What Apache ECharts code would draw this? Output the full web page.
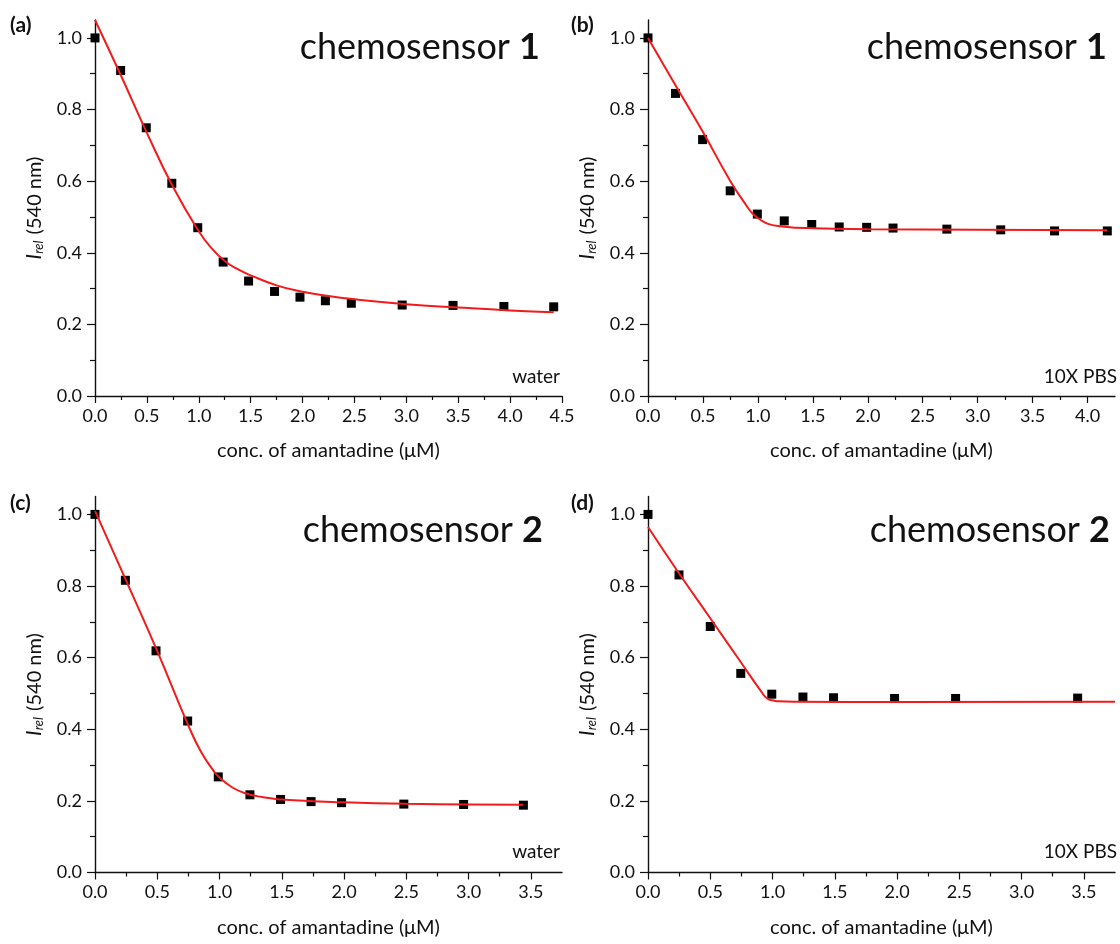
<!DOCTYPE html>
<html>
<head>
<meta charset="utf-8">
<title>chemosensor titration</title>
<script src="https://cdn.jsdelivr.net/npm/echarts@6/dist/echarts.min.js"></script>
<style>
  html, body { margin: 0; padding: 0; background: #fff; }
  #main { width: 1120px; height: 944px; }
</style>
</head>
<body>
<div id="main"></div>
<script>
var xA = [0, 0.247, 0.494, 0.74, 0.99, 1.235, 1.48, 1.73, 1.975, 2.22, 2.47, 2.96, 3.45, 3.94, 4.42];
var yA = [1.0, 0.909, 0.749, 0.594, 0.470, 0.374, 0.321, 0.292, 0.276, 0.266, 0.259, 0.254, 0.253, 0.250, 0.249];
var xB = [0, 0.25, 0.497, 0.748, 0.995, 1.24, 1.49, 1.74, 1.99, 2.23, 2.72, 3.21, 3.70, 4.18];
var yB = [1.0, 0.845, 0.716, 0.573, 0.508, 0.489, 0.479, 0.472, 0.471, 0.469, 0.466, 0.464, 0.461, 0.461];
var xC = [0, 0.244, 0.49, 0.744, 0.99, 1.244, 1.49, 1.735, 1.98, 2.48, 2.96, 3.44];
var yC = [1.0, 0.816, 0.619, 0.423, 0.267, 0.217, 0.204, 0.198, 0.195, 0.191, 0.190, 0.188];
var xD = [0, 0.249, 0.5, 0.745, 0.994, 1.244, 1.49, 1.98, 2.47, 3.45];
var yD = [1.0, 0.831, 0.687, 0.556, 0.498, 0.490, 0.488, 0.486, 0.486, 0.487];

// fitted curves (red)
var fitXA = [0, 0.25, 0.5, 0.75, 1.0, 1.125, 1.25, 1.375, 1.5, 1.75, 2.0, 2.25, 2.5, 3.0, 3.5, 4.0, 4.42];
var fitYA = [1.05, 0.895, 0.735, 0.585, 0.46, 0.412, 0.377, 0.354, 0.337, 0.309, 0.291, 0.279, 0.270, 0.256, 0.247, 0.239, 0.234];
var fitXB = [0, 0.25, 0.5, 0.75, 0.9, 0.95, 1.0, 1.05, 1.1, 1.2, 1.35, 1.6, 2.0, 3.0, 4.18];
var fitYB = [1.0, 0.868, 0.737, 0.6, 0.53, 0.51, 0.497, 0.487, 0.48, 0.474, 0.47, 0.468, 0.466, 0.464, 0.463];
var fitXC = [0, 0.25, 0.5, 0.75, 0.85, 0.95, 1.0, 1.1, 1.2, 1.35, 1.5, 1.75, 2.0, 2.5, 3.0, 3.44];
var fitYC = [1.01, 0.815, 0.618, 0.41, 0.338, 0.285, 0.265, 0.238, 0.222, 0.21, 0.204, 0.199, 0.196, 0.192, 0.19, 0.189];
var fitXD = [0, 0.25, 0.5, 0.75, 0.9, 0.96, 1.0, 1.05, 1.2, 2.0, 3.75];
var fitYD = [0.965, 0.835, 0.71, 0.585, 0.51, 0.485, 0.481, 0.478, 0.477, 0.476, 0.477];

// tick values
var yMajor = [0, 0.2, 0.4, 0.6, 0.8, 1.0];
var yMinor = [0.1, 0.3, 0.5, 0.7, 0.9];
var xMajorA = [0, 0.5, 1.0, 1.5, 2.0, 2.5, 3.0, 3.5, 4.0, 4.5];
var xMinorA = [0.25, 0.75, 1.25, 1.75, 2.25, 2.75, 3.25, 3.75, 4.25];
var xMajorB = [0, 0.5, 1.0, 1.5, 2.0, 2.5, 3.0, 3.5, 4.0];
var xMinorB = [0.25, 0.75, 1.25, 1.75, 2.25, 2.75, 3.25, 3.75];
var xMajorC = [0, 0.5, 1.0, 1.5, 2.0, 2.5, 3.0, 3.5];
var xMinorC = [0.25, 0.75, 1.25, 1.75, 2.25, 2.75, 3.25];

var FONT = 'Lato';
var INK = '#111';

function zip(xs, ys) {
    return xs.map(function (x, i) { return [x, ys[i]]; });
}

var panels = [
    { left: 95, top: 20, xmax: 4.5, major: xMajorA, minor: xMinorA, x: xA, y: yA, fx: fitXA, fy: fitYA },
    { left: 648, top: 20, xmax: 4.25, major: xMajorB, minor: xMinorB, x: xB, y: yB, fx: fitXB, fy: fitYB },
    { left: 95, top: 496.5, xmax: 3.75, major: xMajorC, minor: xMinorC, x: xC, y: yC, fx: fitXC, fy: fitYC },
    { left: 648, top: 496.5, xmax: 3.75, major: xMajorC, minor: xMinorC, x: xD, y: yD, fx: fitXD, fy: fitYD }
];

var grid = [], xAxis = [], yAxis = [], series = [];
panels.forEach(function (p, i) {
    grid.push({ left: p.left, top: p.top, width: 467, height: 376 });
    // main x axis (line, major ticks, labels)
    xAxis.push({
        type: 'value', gridIndex: i, position: 'bottom', min: 0, max: p.xmax,
        name: 'conc. of amantadine (\u03bcM)', nameLocation: 'middle', nameGap: 45,
        nameTextStyle: { fontFamily: FONT, fontSize: 20, color: INK },
        axisLine: { show: true, lineStyle: { color: INK, width: 1.4 } },
        axisTick: { show: true, length: 7, customValues: p.major, lineStyle: { color: INK, width: 1.2 } },
        axisLabel: {
            customValues: p.major, margin: 11, fontFamily: FONT, fontSize: 18, color: INK,
            formatter: function (v) { return v.toFixed(1); }
        },
        splitLine: { show: false }
    });
    // minor x ticks
    xAxis.push({
        type: 'value', gridIndex: i, position: 'bottom', min: 0, max: p.xmax,
        axisLine: { show: false },
        axisTick: { show: true, length: 4, customValues: p.minor, lineStyle: { color: INK, width: 1.2 } },
        axisLabel: { show: false },
        splitLine: { show: false }
    });
    yAxis.push({
        type: 'value', gridIndex: i, position: 'left', min: 0, max: 1.05,
        name: '{i|I}{s|rel} (540 nm)', nameLocation: 'middle', nameGap: 50,
        nameTextStyle: {
            fontFamily: FONT, fontSize: 20, color: INK,
            rich: {
                i: { fontFamily: FONT, fontSize: 21, fontStyle: 'italic', color: INK },
                s: { fontFamily: FONT, fontSize: 13, fontStyle: 'italic', color: INK, verticalAlign: 'bottom', padding: [0, 1, 0, 0] }
            }
        },
        axisLine: { show: true, lineStyle: { color: INK, width: 1.4 } },
        axisTick: { show: true, length: 8, customValues: yMajor, lineStyle: { color: INK, width: 1.2 } },
        axisLabel: {
            customValues: yMajor, margin: 13, fontFamily: FONT, fontSize: 18, color: INK,
            formatter: function (v) { return v.toFixed(1); }
        },
        splitLine: { show: false }
    });
    yAxis.push({
        type: 'value', gridIndex: i, position: 'left', min: 0, max: 1.05,
        axisLine: { show: false },
        axisTick: { show: true, length: 5, customValues: yMinor, lineStyle: { color: INK, width: 1.2 } },
        axisLabel: { show: false },
        splitLine: { show: false }
    });
    series.push({
        type: 'scatter', xAxisIndex: 2 * i, yAxisIndex: 2 * i,
        symbol: 'rect', symbolSize: 9, itemStyle: { color: '#000', opacity: 1 },
        data: zip(p.x, p.y), z: 2, silent: true
    });
    series.push({
        type: 'line', xAxisIndex: 2 * i, yAxisIndex: 2 * i,
        showSymbol: false, smooth: 0.5,
        lineStyle: { color: '#f21a1a', width: 2 },
        data: zip(p.fx, p.fy), z: 3, silent: true
    });
});

function label(txt, x, y) {
    return {
        type: 'text', x: x, y: y,
        style: { text: txt, fontFamily: FONT, fontSize: 21, fontWeight: 'bold', fill: INK, verticalAlign: 'middle' }
    };
}
function sensor(n, right, y) {
    return {
        type: 'text', x: right, y: y,
        style: {
            text: '{a|chemosensor }{b|' + n + '}', align: 'right', verticalAlign: 'middle',
            rich: {
                a: { fontFamily: FONT, fontSize: 36, fill: INK },
                b: { fontFamily: FONT, fontSize: 36, fontWeight: 'bold', fill: INK }
            }
        }
    };
}
function note(txt, right, y) {
    return {
        type: 'text', x: right, y: y,
        style: { text: txt, align: 'right', verticalAlign: 'middle', fontFamily: FONT, fontSize: 19, fill: INK }
    };
}

var option = {
    backgroundColor: '#fff',
    animation: false,
    grid: grid,
    xAxis: xAxis,
    yAxis: yAxis,
    series: series,
    graphic: [
        label('(a)', 10, 25), label('(b)', 571, 25),
        label('(c)', 10, 503), label('(d)', 571, 503),
        sensor('1', 540, 47), sensor('1', 1107, 47),
        sensor('2', 543, 530), sensor('2', 1110, 530),
        note('water', 560, 377), note('10X PBS', 1117, 377),
        note('water', 560, 852), note('10X PBS', 1117, 852)
    ]
};

var myChart = echarts.init(document.getElementById('main'));
myChart.setOption(option);
</script>
</body>
</html>
